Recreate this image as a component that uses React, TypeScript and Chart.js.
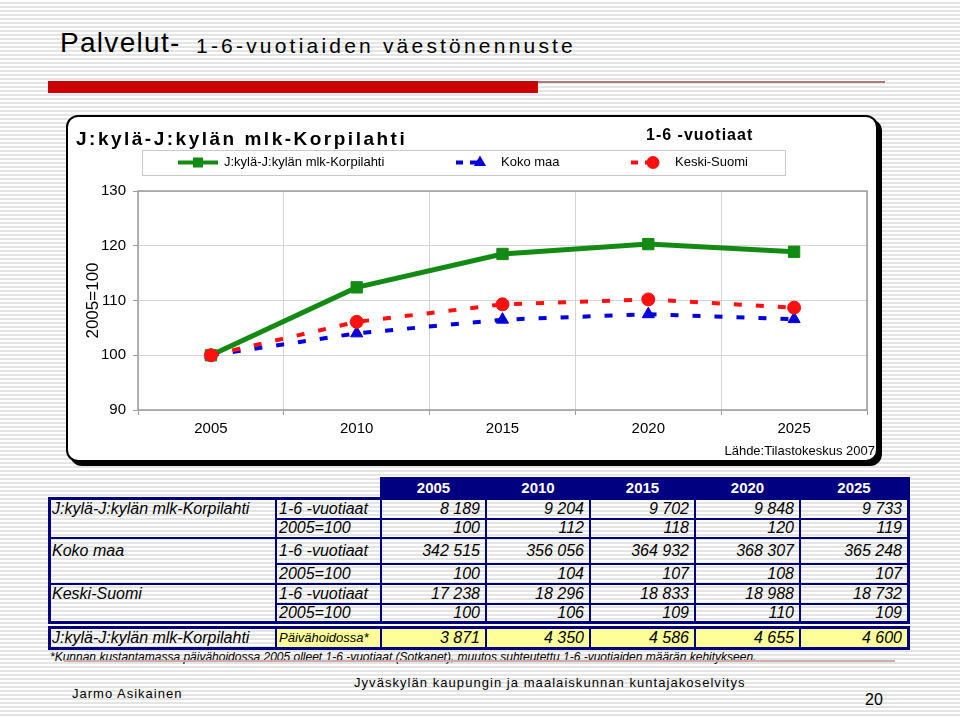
import React, { useEffect, useRef } from "react";
import { Chart, registerables } from "chart.js";

Chart.register(...registerables);

// ---------- data ----------
const years = ["2005", "2010", "2015", "2020", "2025"];
const jkylaIndex = [100, 112.4, 118.5, 120.3, 118.9];
const kokoMaaIndex = [100, 104.0, 106.5, 107.5, 106.6];
const keskiSuomiIndex = [100, 106.1, 109.3, 110.2, 108.7];
const seriesNames = ["J:kylä-J:kylän mlk-Korpilahti", "Koko maa", "Keski-Suomi"];
const yMin = 90;
const yMax = 130;
const yStep = 10;

const pageTitle = "Palvelut-";
const pageSubtitle = "1-6-vuotiaiden väestönennuste";
const chartTitle = "J:kylä-J:kylän mlk-Korpilahti";
const chartSubtitle = "1-6 -vuotiaat";
const yAxisTitle = "2005=100";
const sourceText = "Lähde:Tilastokeskus 2007";

const rowLabelCount = "1-6 -vuotiaat";
const rowLabelIndex = "2005=100";
const jkylaCount = ["8 189", "9 204", "9 702", "9 848", "9 733"];
const jkylaIdx = ["100", "112", "118", "120", "119"];
const kokoCount = ["342 515", "356 056", "364 932", "368 307", "365 248"];
const kokoIdx = ["100", "104", "107", "108", "107"];
const keskiCount = ["17 238", "18 296", "18 833", "18 988", "18 732"];
const keskiIdx = ["100", "106", "109", "110", "109"];
const daycareLabel = "Päivähoidossa*";
const daycare = ["3 871", "4 350", "4 586", "4 655", "4 600"];
const footnote =
  "*Kunnan kustantamassa päivähoidossa 2005 olleet 1-6 -vuotiaat (Sotkanet), muutos suhteutettu 1-6 -vuotiaiden määrän kehitykseen.";
const footerAuthor = "Jarmo Asikainen";
const footerCenter = "Jyväskylän kaupungin ja maalaiskunnan kuntajakoselvitys";
const pageNumber = "20";

// ---------- styles ----------
const FONT = "'Liberation Sans', Arial, Helvetica, sans-serif";
const GREEN = "#138a13";
const BLUE = "#0000dd";
const RED = "#ff1010";
const NAVY = "#000080";

const decorPlugin: any = {
  id: "decor",
  beforeDatasetsDraw(chart: any) {
    const { ctx, chartArea: a } = chart;
    ctx.save();
    ctx.strokeStyle = "#9a9a9a";
    ctx.lineWidth = 1.5;
    ctx.strokeRect(a.left, a.top, a.right - a.left, a.bottom - a.top);
    ctx.restore();
  },
  afterDraw(chart: any) {
    const ctx = chart.ctx as any;
    ctx.save();
    ctx.fillStyle = "#000";
    ctx.textBaseline = "alphabetic";
    ctx.textAlign = "left";
    ctx.font = `bold 19px ${FONT}`;
    ctx.letterSpacing = "2.5px";
    ctx.fillText(chartTitle, 8, 28);
    ctx.font = `bold 16px ${FONT}`;
    ctx.letterSpacing = "1px";
    ctx.fillText(chartSubtitle, 578, 23);
    ctx.letterSpacing = "0px";

    // legend box
    ctx.strokeStyle = "#c8c8c8";
    ctx.lineWidth = 1;
    ctx.fillStyle = "#fff";
    ctx.fillRect(74.5, 33.5, 643, 25);
    ctx.strokeRect(74.5, 33.5, 643, 25);

    const ly = 45.5;
    const items = [
      { color: GREEN, style: "rect", x0: 110, x1: 150, mx: 130, tx: 156, dash: [] as number[], lw: 4 },
      { color: BLUE, style: "triangle", x0: 388, x1: 412, mx: 412, tx: 433, dash: [7, 7], lw: 4 },
      { color: RED, style: "circle", x0: 563, x1: 585, mx: 585, tx: 607, dash: [7, 7], lw: 4 },
    ];
    items.forEach((it, i) => {
      ctx.save();
      ctx.strokeStyle = it.color;
      ctx.lineWidth = it.lw;
      ctx.setLineDash(it.dash);
      ctx.beginPath();
      ctx.moveTo(it.x0, ly);
      ctx.lineTo(it.x1, ly);
      ctx.stroke();
      ctx.setLineDash([]);
      ctx.fillStyle = it.color;
      ctx.beginPath();
      if (it.style === "rect") {
        ctx.rect(it.mx - 5, ly - 5, 10, 10);
      } else if (it.style === "triangle") {
        const r = 7;
        ctx.moveTo(it.mx, ly - r);
        ctx.lineTo(it.mx + r * 0.866, ly + r * 0.5);
        ctx.lineTo(it.mx - r * 0.866, ly + r * 0.5);
        ctx.closePath();
      } else {
        ctx.arc(it.mx, ly, 6.5, 0, Math.PI * 2);
      }
      ctx.fill();
      ctx.restore();
      ctx.fillStyle = "#000";
      ctx.font = `13px ${FONT}`;
      ctx.textBaseline = "middle";
      ctx.textAlign = "left";
      ctx.fillText(seriesNames[i], it.tx, ly);
    });

    // source
    ctx.font = `13px ${FONT}`;
    ctx.textAlign = "right";
    ctx.textBaseline = "middle";
    ctx.fillStyle = "#000";
    ctx.fillText(sourceText, 807, 334);
    ctx.restore();
  },
};

function ChartBox() {
  const ref = useRef<HTMLCanvasElement>(null);
  useEffect(() => {
    const canvas = ref.current as HTMLCanvasElement;
    const chart = new Chart(canvas, {
      type: "line",
      data: {
        labels: years,
        datasets: [
          {
            label: seriesNames[0],
            data: jkylaIndex,
            borderColor: GREEN,
            backgroundColor: GREEN,
            borderWidth: 5,
            pointStyle: "rect",
            pointRadius: 8,
            pointBorderWidth: 1,
            tension: 0,
            order: 2,
          },
          {
            label: seriesNames[1],
            data: kokoMaaIndex,
            borderColor: BLUE,
            backgroundColor: BLUE,
            borderWidth: 4,
            borderDash: [8, 14],
            pointStyle: "triangle",
            pointRadius: 7,
            pointBorderWidth: 1,
            tension: 0,
            order: 1,
          },
          {
            label: seriesNames[2],
            data: keskiSuomiIndex,
            borderColor: RED,
            backgroundColor: RED,
            borderWidth: 4,
            borderDash: [8, 14],
            pointStyle: "circle",
            pointRadius: 6.5,
            pointBorderWidth: 1,
            tension: 0,
            order: 0,
          },
        ],
      },
      options: {
        animation: false,
        responsive: false,
        maintainAspectRatio: false,
        layout: { padding: { left: 0, right: 6, top: 74, bottom: 0 } },
        plugins: {
          legend: { display: false },
          tooltip: { enabled: false },
          title: { display: false },
        },
        scales: {
          x: {
            type: "category",
            offset: true,
            grid: {
              offset: true,
              color: "#d4d4d4",
              lineWidth: 1,
              drawTicks: true,
              tickLength: 5,
              tickColor: "#9a9a9a",
            },
            border: { display: false },
            ticks: {
              color: "#000",
              font: { family: FONT, size: 15 },
              padding: 5,
            },
            afterFit: (s: any) => {
              s.height = 50;
            },
          },
          y: {
            min: yMin,
            max: yMax,
            grid: {
              color: "#d4d4d4",
              lineWidth: 1,
              drawTicks: true,
              tickLength: 5,
              tickColor: "#9a9a9a",
            },
            border: { display: false },
            ticks: {
              stepSize: yStep,
              color: "#000",
              font: { family: FONT, size: 15 },
              padding: 7,
            },
            title: {
              display: true,
              text: yAxisTitle,
              color: "#000",
              font: { family: FONT, size: 17 },
              padding: { top: 15, bottom: 0 },
            },
            afterFit: (s: any) => {
              s.width = 70;
            },
          },
        },
      } as any,
      plugins: [decorPlugin],
    });
    return () => chart.destroy();
  }, []);
  return (
    <div
      style={{
        position: "absolute",
        left: 66,
        top: 115,
        width: 812,
        height: 347,
        boxSizing: "border-box",
        border: "2px solid #000",
        borderRadius: 12,
        background: "#fff",
        boxShadow: "4px 4px 0 #000",
      }}
    >
      <canvas
        ref={ref}
        width={808}
        height={343}
        style={{ position: "absolute", left: 0, top: 0, width: 808, height: 343 }}
      />
    </div>
  );
}

function Txt(props: any) {
  const { x, y, w, h, align, style, children } = props;
  return (
    <div
      style={{
        position: "absolute",
        left: x,
        top: y,
        width: w,
        height: h,
        display: "flex",
        alignItems: "center",
        justifyContent:
          align === "right" ? "flex-end" : align === "center" ? "center" : "flex-start",
        whiteSpace: "nowrap",
        boxSizing: "border-box",
        ...style,
      }}
    >
      {children}
    </div>
  );
}

function Rect(props: any) {
  const { x, y, w, h, c } = props;
  return <div style={{ position: "absolute", left: x, top: y, width: w, height: h, background: c }} />;
}

function DataTable() {
  const X = [49, 276, 381, 486, 590, 695, 800, 908];
  const R = [498.5, 518.5, 538, 564, 583.5, 603.5, 622.5];
  const groups = [
    { name: seriesNames[0], rows: [[rowLabelCount, jkylaCount], [rowLabelIndex, jkylaIdx]] },
    { name: seriesNames[1], rows: [[rowLabelCount, kokoCount], [rowLabelIndex, kokoIdx]] },
    { name: seriesNames[2], rows: [[rowLabelCount, keskiCount], [rowLabelIndex, keskiIdx]] },
  ];
  const cellFont = { fontFamily: FONT, fontStyle: "italic", fontSize: 16, color: "#000" };
  const els: any[] = [];
  const hLine = (x1: number, x2: number, y: number, t: number, k: string) =>
    els.push(<Rect key={k} x={x1 - t / 2} y={y - t / 2} w={x2 - x1 + t} h={t} c={NAVY} />);
  const vLine = (x: number, y1: number, y2: number, t: number, k: string) =>
    els.push(<Rect key={k} x={x - t / 2} y={y1 - t / 2} w={t} h={y2 - y1 + t} c={NAVY} />);

  // header
  els.push(<Rect key="hdr" x={X[2] - 1} y={476.5} w={X[7] - X[2] + 2.5} h={23} c={NAVY} />);
  years.forEach((yr, i) =>
    els.push(
      <Txt key={"hy" + i} x={X[i + 2]} y={476.5} w={X[i + 3] - X[i + 2]} h={21} align="center"
        style={{ fontFamily: FONT, fontWeight: "bold", fontSize: 15, color: "#fff" }}>
        {yr}
      </Txt>
    )
  );

  // body text
  groups.forEach((g, gi) => {
    const top = R[gi * 2];
    els.push(
      <Txt key={"g" + gi} x={X[0] + 3} y={top} w={X[1] - X[0] - 3} h={R[gi * 2 + 1] - top} style={cellFont}>
        {g.name}
      </Txt>
    );
    g.rows.forEach((row: any, ri: number) => {
      const y1 = R[gi * 2 + ri];
      const y2 = R[gi * 2 + ri + 1];
      els.push(
        <Txt key={`l${gi}${ri}`} x={X[1] + 3} y={y1} w={X[2] - X[1] - 3} h={y2 - y1} style={cellFont}>
          {row[0]}
        </Txt>
      );
      (row[1] as string[]).forEach((v, ci) =>
        els.push(
          <Txt key={`v${gi}${ri}${ci}`} x={X[ci + 2]} y={y1} w={X[ci + 3] - X[ci + 2] - 6} h={y2 - y1}
            align="right" style={cellFont}>
            {v}
          </Txt>
        )
      );
    });
  });

  // body lines
  hLine(X[0], X[7], R[0], 3, "bt");
  hLine(X[0], X[7], R[6], 3, "bb");
  vLine(X[0], R[0], R[6], 3, "bl");
  vLine(X[7], R[0], R[6], 3, "br");
  hLine(X[0], X[7], R[2], 2, "g1");
  hLine(X[0], X[7], R[4], 2, "g2");
  hLine(X[1], X[7], R[1], 2, "s1");
  hLine(X[1], X[7], R[3], 2, "s2");
  hLine(X[1], X[7], R[5], 2, "s3");
  for (let i = 1; i < 7; i++) vLine(X[i], R[0], R[6], 2, "v" + i);

  // daycare row
  const dy1 = 627;
  const dy2 = 648.5;
  els.push(<Rect key="yel" x={X[1]} y={dy1} w={X[7] - X[1]} h={dy2 - dy1} c="#ffff99" />);
  els.push(
    <Txt key="dg" x={X[0] + 3} y={dy1} w={X[1] - X[0] - 3} h={dy2 - dy1} style={cellFont}>
      {seriesNames[0]}
    </Txt>
  );
  els.push(
    <Txt key="dl" x={X[1] + 3} y={dy1} w={X[2] - X[1] - 3} h={dy2 - dy1}
      style={{ ...cellFont, fontSize: 13 }}>
      {daycareLabel}
    </Txt>
  );
  daycare.forEach((v, ci) =>
    els.push(
      <Txt key={"d" + ci} x={X[ci + 2]} y={dy1} w={X[ci + 3] - X[ci + 2] - 6} h={dy2 - dy1} align="right"
        style={cellFont}>
        {v}
      </Txt>
    )
  );
  hLine(X[0], X[7], dy1, 3, "dt");
  hLine(X[0], X[7], dy2, 3, "db");
  vLine(X[0], dy1, dy2, 3, "dlft");
  vLine(X[7], dy1, dy2, 3, "drgt");
  for (let i = 1; i < 7; i++) vLine(X[i], dy1, dy2, 2, "dv" + i);

  // footnote
  els.push(
    <Txt key="fn" x={50} y={650} w={860} h={14}
      style={{ fontFamily: FONT, fontStyle: "italic", fontSize: 12, color: "#000" }}>
      {footnote}
    </Txt>
  );
  return <>{els}</>;
}

export default function App() {
  const stripes =
    "repeating-linear-gradient(to bottom, #ffffff 0px, #ffffff 2px, #e4e4e4 2px, #e4e4e4 4px)";
  const abs = (x: number, y: number, extra: any) => ({
    position: "absolute" as const,
    left: x,
    top: y,
    whiteSpace: "nowrap" as const,
    fontFamily: FONT,
    color: "#000",
    ...extra,
  });
  return (
    <div
      style={{
        position: "absolute",
        left: 0,
        top: 0,
        width: 960,
        height: 717,
        overflow: "hidden",
        background: stripes,
        fontFamily: FONT,
      }}
    >
      <div style={abs(60, 29.3, { fontSize: 28, lineHeight: "28px", letterSpacing: 1.3 })}>{pageTitle}</div>
      <div style={abs(196, 35.2, { fontSize: 21, lineHeight: "21px", letterSpacing: 3.2 })}>{pageSubtitle}</div>
      <div style={{ position: "absolute", left: 48, top: 81, width: 490, height: 12, background: "#cc0000" }} />
      <div style={{ position: "absolute", left: 538, top: 81, width: 347, height: 2, background: "#b47878" }} />

      <ChartBox />
      <DataTable />

      <div style={{ position: "absolute", left: 64, top: 660, width: 831, height: 2, background: "#d4aaaa" }} />
      <div style={abs(72, 687, { fontSize: 13, lineHeight: "13px", letterSpacing: 1 })}>{footerAuthor}</div>
      <div style={abs(354, 676, { fontSize: 13, lineHeight: "13px", letterSpacing: 1.05 })}>{footerCenter}</div>
      <div style={abs(865, 691.5, { fontSize: 16, lineHeight: "16px" })}>{pageNumber}</div>
    </div>
  );
}
